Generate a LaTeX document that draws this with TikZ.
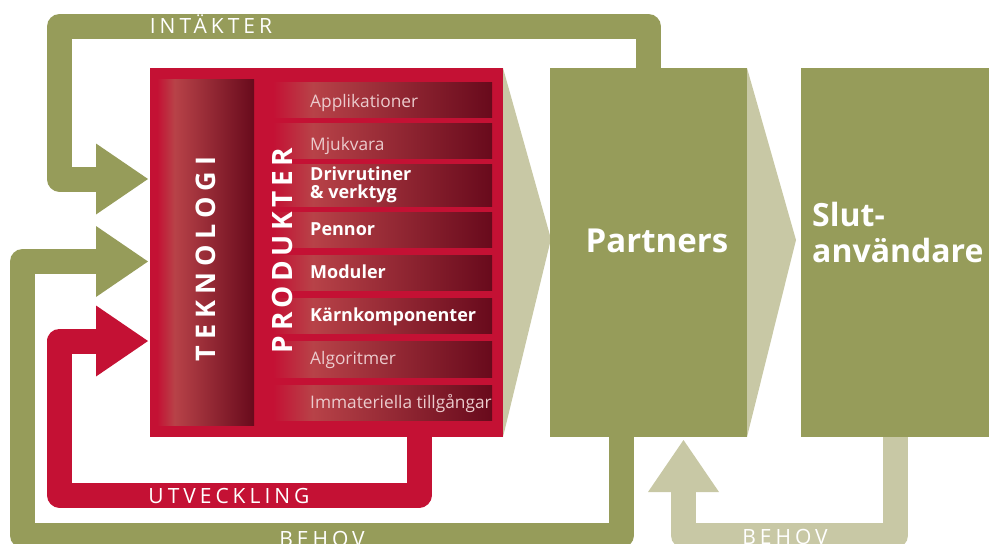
\documentclass[tikz,border=0pt]{standalone}
\usepackage{fontspec}
\setmainfont{Open Sans}
\newfontfamily\loopfont[LetterSpace=19]{Open Sans}
\newfontfamily\techfont[LetterSpace=22]{Open Sans}
\newfontfamily\prodfont[LetterSpace=16]{Open Sans}
\usetikzlibrary{arrows.meta}
\definecolor{tkred}{HTML}{C41134}
\definecolor{tkolive}{HTML}{969C5A}
\definecolor{tktan}{HTML}{C8C8A5}
\definecolor{barlight}{HTML}{B84248}
\definecolor{bardark}{HTML}{680A1C}
\definecolor{softtext}{HTML}{EBCBCD}
% crimson edge, light band, then darkening to the right
\pgfdeclarehorizontalshading{redbar}{100bp}{color(0bp)=(tkred); color(25bp)=(tkred); color(34bp)=(barlight); color(75bp)=(bardark); color(100bp)=(bardark)}
\pgfdeclarelayer{loops}
\pgfsetlayers{loops,main}

\begin{document}
\begin{tikzpicture}[x=1pt,y=-1pt,
  box/.style={rectangle, inner sep=0pt, outer sep=0pt, draw=none},
  bar/.style={box, shade, shading=redbar, minimum width=219pt},
  band/.style={line width=25pt, line join=round},
  head/.style={-{Triangle[length=52pt,width=71pt,line width=0pt]}},
  looplabel/.style={text=white, font=\loopfont\fontsize{21}{21}\selectfont, anchor=base, inner sep=0pt},
  softitem/.style={text=softtext, font=\fontsize{17.3}{17.3}\selectfont, anchor=base west, inner sep=0pt},
  bolditem/.style={text=white, font=\bfseries\fontsize{18}{18}\selectfont, anchor=base west, inner sep=0pt},
  biglabel/.style={text=white, inner sep=0pt},
]
\useasboundingbox (0,0) rectangle (989,544);

% technology block
\node[box, fill=tkred, minimum width=353pt, minimum height=369pt] (tech) at (326.5,252.5) {};
\node[box, shade, shading=redbar, minimum width=97pt, minimum height=346pt] (techcol) at (205.5,252) {};
\node[biglabel, font=\techfont\bfseries\fontsize{27}{27}\selectfont, rotate=90, anchor=base] (teknologi) at (215.5,259) {TEKNOLOGI};

% product layers
\node[bar, minimum height=35pt] (barApp) at (382.5,99.5) {};
\node[bar, minimum height=35pt] (barMju) at (382.5,140.5) {};
\node[bar, minimum height=42pt] (barDri) at (382.5,185) {};
\node[bar, minimum height=35pt] (barPen) at (382.5,229.5) {};
\node[bar, minimum height=35pt] (barMod) at (382.5,272.5) {};
\node[bar, minimum height=35pt] (barKar) at (382.5,315.5) {};
\node[bar, minimum height=36pt] (barAlg) at (382.5,359) {};
\node[bar, minimum height=35pt] (barImm) at (382.5,402.5) {};

\node[biglabel, font=\prodfont\bfseries\fontsize{28}{28}\selectfont, rotate=90, anchor=base] (produkter) at (292.5,250.5) {PRODUKTER};

\node[softitem] (tApp) at (310,107) {Applikationer};
\node[softitem] (tMju) at (310,150) {Mjukvara};
\node[bolditem] (tDri) at (310,180) {Drivrutiner};
\node[bolditem] (tVer) at (310,198) {\& verktyg};
\node[bolditem] (tPen) at (310,235) {Pennor};
\node[bolditem] (tMod) at (310,278) {Moduler};
\node[bolditem] (tKar) at (310,321) {Kärnkomponenter};
\node[softitem] (tAlg) at (310,364) {Algoritmer};
\node[softitem] (tImm) at (310,408) {Immateriella tillgångar};

% flow chevron towards the partners
\fill[tktan] (tech.north east) -- (551,239) -- (tech.south east) -- cycle;

\node[box, fill=tkolive, minimum width=197pt, minimum height=369pt] (partners) at (648.5,252.5) {};
\node[biglabel, font=\bfseries\fontsize{33}{33}\selectfont, anchor=base] (partnerslabel) at (657,252) {Partners};

% flow chevron towards the end users
\fill[tktan] (partners.north east) -- (796,240) -- (partners.south east) -- cycle;

\node[box, fill=tkolive, minimum width=194pt, minimum height=369pt] (slut) at (898,252.5) {};
\node[biglabel, font=\bfseries\fontsize{32}{32}\selectfont, anchor=base west] (slutA) at (812,226) {Slut-};
\node[biglabel, font=\bfseries\fontsize{32}{32}\selectfont, anchor=base west] (slutB) at (812,262) {användare};

% arrow tips of the feedback loops
\path (tech.west) ++(-2,-73.5) coordinate (inA);
\path (tech.west) ++(-2,9) coordinate (inB);
\path (tech.west) ++(-2,88.5) coordinate (inC);
\path (partners.south) ++(35,3) coordinate (bhTip);

\begin{pgfonlayer}{loops}
  \draw[band, tkolive, head] (partners.north) |- (59.5,26.5) |- (inA);
  \draw[band, tkolive, head] ([xshift=-27.5pt]partners.south) |- (22.5,535.5) |- (inB);
  \draw[band, tkred, head] ([xshift=92.5pt]tech.south) |- (59.5,495) |- (inC);
  \draw[band, tktan, head] ([xshift=-2.5pt]slut.south) |- (683.5,535.5) -- (bhTip);
\end{pgfonlayer}

\node[looplabel] (lIntakter) at (211,33) {INTÄKTER};
\node[looplabel] (lUtveckling) at (229,503) {UTVECKLING};
\node[looplabel] (lBehovA) at (322,546) {BEHOV};
\node[looplabel] (lBehovB) at (785,544) {BEHOV};
\end{tikzpicture}
\end{document}
